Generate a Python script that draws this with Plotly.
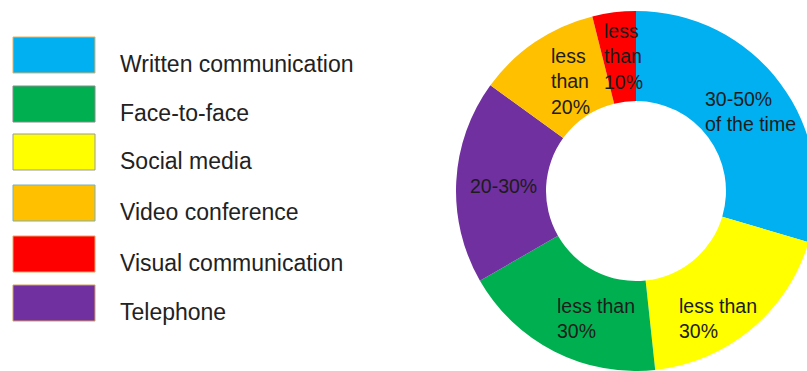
import plotly.graph_objects as go

# ---- data ----
slice_labels = ["Written communication", "Social media", "Face-to-face",
                "Telephone", "Video conference", "Visual communication"]
slice_values = [29.6, 18.7, 18.4, 18.3, 11.1, 3.9]
slice_colors = ["#00b0f0", "#ffff00", "#00b050", "#7030a0", "#ffc000", "#ff0000"]
slice_texts = ["30-50%<br>of the time", "less than<br>30%", "less than<br>30%",
               "20-30%", "less<br>than<br>20%", "less<br>than<br>10%"]

legend_labels = ["Written communication", "Face-to-face", "Social media",
                 "Video conference", "Visual communication", "Telephone"]
legend_colors = ["#00b0f0", "#00b050", "#ffff00", "#ffc000", "#ff0000", "#7030a0"]
legend_borders = ["#e8b060", "#8a8a8a", "#9a9aa0", "#7ab0b8", "#f0a060", "#d0a060"]

W, H = 816, 371

def px(x):
    return x / W

def py(y):
    return 1 - y / H

fig = go.Figure()
fig.add_trace(go.Pie(
    labels=slice_labels, values=slice_values,
    marker=dict(colors=slice_colors, line=dict(width=0)),
    hole=0.5, sort=False, direction="clockwise", rotation=0,
    textinfo="none", hoverinfo="label+percent", showlegend=False,
    domain=dict(x=[456 / W, 1.0], y=[0.0, 1 - 11 / H]),
))

# slice label positions (pixel, left edge / vertical centre)
label_pos = [(703, 111.5), (677, 318), (555, 318), (468, 186), (549, 81.5), (602, 56.5)]
for t, (x, y) in zip(slice_texts, label_pos):
    fig.add_annotation(x=px(x), y=py(y), xref="paper", yref="paper", text=t,
                       showarrow=False, xanchor="left", yanchor="middle", align="left",
                       font=dict(family="Liberation Sans, Arial", size=19.5, color="#1c1c1c"))

# legend (drawn)
sw_top = [37, 86, 134, 185, 236, 285]
for i, (lab, col, bc) in enumerate(zip(legend_labels, legend_colors, legend_borders)):
    y0 = sw_top[i]
    fig.add_shape(type="rect", xref="paper", yref="paper",
                  x0=px(13), x1=px(95), y0=py(y0), y1=py(y0 + 36),
                  fillcolor=col, line=dict(color=bc, width=1))
    fig.add_annotation(x=px(118), y=py(y0 + 27), xref="paper", yref="paper", text=lab,
                       showarrow=False, xanchor="left", yanchor="middle",
                       font=dict(family="Liberation Sans, Arial", size=23, color="#222222"))

fig.update_layout(width=W, height=H, margin=dict(l=0, r=0, t=0, b=0),
                  paper_bgcolor="white", plot_bgcolor="white", showlegend=False)

fig.write_html("out.html",
               post_script="document.body.style.margin='0';document.body.style.overflow='hidden';document.documentElement.style.overflow='hidden';")
